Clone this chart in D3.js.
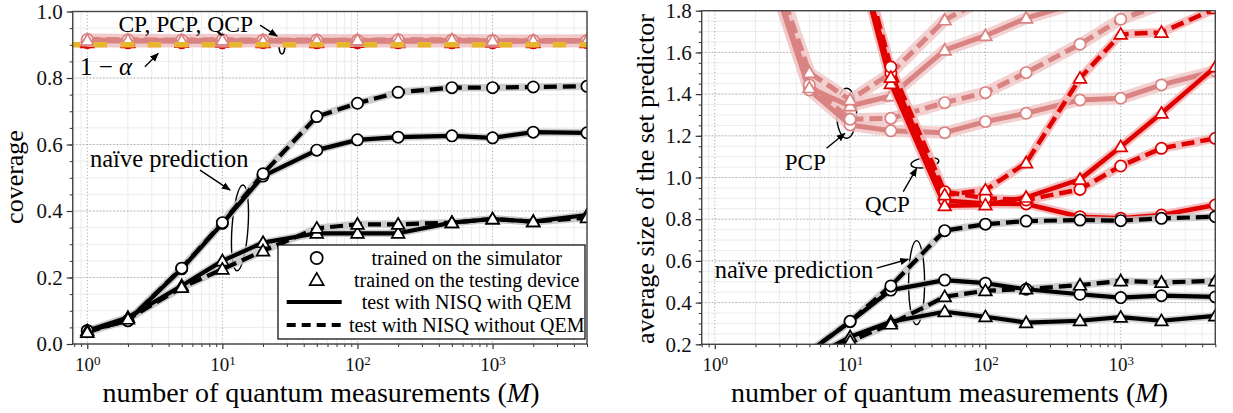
<!DOCTYPE html>
<html>
<head>
<meta charset="utf-8">
<script src="https://cdn.jsdelivr.net/npm/d3@7"></script>
<style>
  body { margin: 0; background: #fff; }
  svg { display: block; font-family: "Liberation Serif", "Times New Roman", serif; }
</style>
</head>
<body>
<svg id="chart" width="1233" height="413"></svg>
<script>
// number of quantum measurements
const M = [1, 2, 5, 10, 20, 50, 100, 200, 500, 1000, 2000, 5000];

// ---- left panel: coverage ----
const covPcpSimQem = [0.914, 0.913, 0.912, 0.913, 0.912, 0.913, 0.912, 0.913, 0.913, 0.912, 0.911, 0.912];
const covPcpSimNo  = [0.916, 0.915, 0.914, 0.915, 0.914, 0.914, 0.913, 0.915, 0.914, 0.913, 0.913, 0.913];
const covPcpDevQem = [0.912, 0.911, 0.911, 0.910, 0.912, 0.911, 0.911, 0.910, 0.912, 0.910, 0.911, 0.911];
const covPcpDevNo  = [0.913, 0.914, 0.912, 0.914, 0.911, 0.912, 0.914, 0.913, 0.915, 0.912, 0.912, 0.912];
const covQcpSimQem = [0.907, 0.906, 0.907, 0.906, 0.907, 0.906, 0.907, 0.906, 0.906, 0.907, 0.906, 0.907];
const covQcpSimNo  = [0.908, 0.907, 0.906, 0.907, 0.908, 0.907, 0.906, 0.907, 0.907, 0.906, 0.907, 0.908];
const covQcpDevQem = [0.906, 0.907, 0.908, 0.907, 0.906, 0.907, 0.908, 0.906, 0.907, 0.908, 0.906, 0.906];
const covQcpDevNo  = [0.907, 0.906, 0.907, 0.908, 0.907, 0.906, 0.907, 0.908, 0.906, 0.907, 0.908, 0.907];
const covNaiveSimQem = [0.040, 0.070, 0.226, 0.363, 0.505, 0.583, 0.614, 0.622, 0.626, 0.620, 0.637, 0.635];
const covNaiveSimNo  = [0.040, 0.070, 0.228, 0.365, 0.512, 0.684, 0.724, 0.757, 0.771, 0.771, 0.773, 0.775];
const covNaiveDevQem = [0.040, 0.080, 0.175, 0.250, 0.305, 0.333, 0.333, 0.333, 0.365, 0.376, 0.368, 0.388];
const covNaiveDevNo  = [0.035, 0.075, 0.170, 0.225, 0.280, 0.348, 0.360, 0.360, 0.365, 0.376, 0.368, 0.380];
const targetCoverage = 0.9;

// ---- right panel: average set size ----
const sizePcpSimQem = [2.30, 2.20, 1.420, 1.252, 1.224, 1.215, 1.268, 1.308, 1.372, 1.380, 1.444, 1.511];
const sizePcpSimNo  = [2.30, 2.20, 1.444, 1.279, 1.284, 1.359, 1.407, 1.503, 1.639, 1.759, 1.830, 1.950];
const sizePcpDevQem = [2.30, 2.20, 1.430, 1.343, 1.391, 1.611, 1.680, 1.764, 1.840, 1.900, 2.000, 2.100];
const sizePcpDevNo  = [2.30, 2.25, 1.503, 1.372, 1.500, 1.755, 1.860, 1.950, 2.050, 2.100, 2.200, 2.300];
const sizeQcpSimQem = [4.00, 3.50, 3.00, 2.20, 1.500, 0.890, 0.875, 0.873, 0.812, 0.804, 0.820, 0.868];
const sizeQcpSimNo  = [4.00, 3.50, 3.00, 2.25, 1.530, 0.932, 0.900, 0.892, 0.943, 1.055, 1.140, 1.188];
const sizeQcpDevQem = [4.00, 3.50, 3.00, 2.20, 1.450, 0.865, 0.868, 0.905, 0.991, 1.148, 1.308, 1.530];
const sizeQcpDevNo  = [4.00, 3.50, 3.00, 2.30, 1.480, 0.916, 0.940, 1.070, 1.476, 1.687, 1.696, 1.810];
const sizeNaiveSimQem = [0.040, 0.080, 0.165, 0.308, 0.460, 0.508, 0.493, 0.464, 0.440, 0.424, 0.433, 0.427];
const sizeNaiveSimNo  = [0.040, 0.080, 0.165, 0.310, 0.480, 0.745, 0.776, 0.791, 0.796, 0.793, 0.804, 0.812];
const sizeNaiveDevQem = [0.030, 0.060, 0.130, 0.236, 0.308, 0.356, 0.332, 0.304, 0.313, 0.330, 0.313, 0.336];
const sizeNaiveDevNo  = [0.030, 0.060, 0.120, 0.215, 0.297, 0.428, 0.457, 0.465, 0.484, 0.504, 0.497, 0.504];

const legendLabels = ["trained on the simulator", "trained on the testing device",
                      "test with NISQ with QEM", "test with NISQ without QEM"];

const styles = {
  pcp:   { color: "#d98383", halo: "#f1c9c9", haloW: 12, w: 5,   mk: "#d98383" },
  qcp:   { color: "#e00000", halo: "#f3b4b4", haloW: 9,  w: 4.5, mk: "#e00000" },
  naive: { color: "#000",    halo: "#c4c4c4", haloW: 7.5, w: 4.2, mk: "#000" }
};

const svg = d3.select("#chart");
const defs = svg.append("defs");
defs.append("marker").attr("id", "arrow")
  .attr("viewBox", "0 0 10 10").attr("refX", 9).attr("refY", 5)
  .attr("markerWidth", 9).attr("markerHeight", 9).attr("markerUnits", "userSpaceOnUse")
  .attr("orient", "auto")
  .append("path").attr("d", "M0,1 L10,5 L0,9 Z").attr("fill", "#000");

const circleSym = d3.symbol(d3.symbolCircle, 100)();
const triSym = d3.symbol(d3.symbolTriangle, 70)();

function series(values, kind, marker, dashed) {
  return { values, kind, marker, dashed };
}

function drawPanel(cfg) {
  const x = d3.scaleLog().domain(cfg.xdom).range([cfg.left, cfg.right]);
  const y = d3.scaleLinear().domain(cfg.ydom).range([cfg.bottom, cfg.top]);
  const g = svg.append("g");
  const clipId = "clip-" + cfg.id;
  defs.append("clipPath").attr("id", clipId).append("rect")
    .attr("x", cfg.left).attr("y", cfg.top)
    .attr("width", cfg.right - cfg.left).attr("height", cfg.bottom - cfg.top);

  // minor ticks in x
  const xMinor = [];
  [0.1, 1, 10, 100, 1000].forEach(d => {
    for (let k = 2; k <= 9; k++) {
      const v = k * d;
      if (v >= cfg.xdom[0] && v <= cfg.xdom[1]) xMinor.push(v);
    }
  });
  const xMajor = [1, 10, 100, 1000];
  const yMajor = d3.range(cfg.ydom[0], cfg.ydom[1] + 1e-9, 0.2);
  const yMinor = d3.range(cfg.ydom[0], cfg.ydom[1] + 1e-9, 0.05);

  // grid
  const grid = g.append("g");
  grid.selectAll(".gxm").data(xMinor).join("line")
    .attr("x1", d => x(d)).attr("x2", d => x(d)).attr("y1", cfg.top).attr("y2", cfg.bottom)
    .attr("stroke", "#ececec").attr("stroke-width", 1);
  grid.selectAll(".gym").data(yMinor).join("line")
    .attr("y1", d => y(d)).attr("y2", d => y(d)).attr("x1", cfg.left).attr("x2", cfg.right)
    .attr("stroke", "#ececec").attr("stroke-width", 1);
  grid.selectAll(".gxM").data(xMajor).join("line")
    .attr("x1", d => x(d)).attr("x2", d => x(d)).attr("y1", cfg.top).attr("y2", cfg.bottom)
    .attr("stroke", "#aaa").attr("stroke-width", 1).attr("stroke-dasharray", "1.2,2.2");
  grid.selectAll(".gyM").data(yMajor).join("line")
    .attr("y1", d => y(d)).attr("y2", d => y(d)).attr("x1", cfg.left).attr("x2", cfg.right)
    .attr("stroke", "#aaa").attr("stroke-width", 1).attr("stroke-dasharray", "1.2,2.2");

  // annotation ellipses go under the data
  const ann = cfg.annotations;
  ann.ellipses.forEach(e => {
    g.append("ellipse")
      .attr("transform", `translate(${x(e.m)},${y(e.v)}) rotate(${e.rot || 0})`)
      .attr("rx", e.rx).attr("ry", e.ry)
      .attr("fill", "none").attr("stroke", "#000").attr("stroke-width", 1.4);
  });

  // data
  const plot = g.append("g").attr("clip-path", `url(#${clipId})`);
  const line = d3.line().x((d, i) => x(M[i])).y(d => y(d));
  cfg.groups.forEach(group => {
    group.forEach(s => {
      const st = styles[s.kind];
      plot.append("path").attr("d", line(s.values)).attr("fill", "none")
        .attr("stroke", st.halo).attr("stroke-width", st.haloW)
        .attr("stroke-linejoin", "round").attr("stroke-opacity", 0.85);
    });
    group.forEach(s => {
      const st = styles[s.kind];
      plot.append("path").attr("d", line(s.values)).attr("fill", "none")
        .attr("stroke", st.color).attr("stroke-width", st.w)
        .attr("stroke-linejoin", "round")
        .attr("stroke-dasharray", s.dashed ? "13,6" : null);
    });
    group.forEach(s => {
      const st = styles[s.kind];
      plot.selectAll(null).data(s.values).join("path")
        .attr("transform", (d, i) => `translate(${x(M[i])},${y(d) + (s.marker === "tri" ? 1 : 0)})`)
        .attr("d", s.marker === "tri" ? triSym : circleSym)
        .attr("fill", "#fff").attr("stroke", st.mk).attr("stroke-width", 1.7);
    });
  });

  if (cfg.target !== undefined) {
    plot.append("line")
      .attr("x1", cfg.left).attr("x2", cfg.right)
      .attr("y1", y(cfg.target)).attr("y2", y(cfg.target))
      .attr("stroke", "#e8b62c").attr("stroke-width", 5.5)
      .attr("stroke-dasharray", "13.5,13.5").attr("stroke-dashoffset", 6);
  }

  // axes
  const xAxis = d3.axisBottom(x).tickValues(xMajor).tickSize(5).tickSizeOuter(0);
  const xa = g.append("g").attr("transform", `translate(0,${cfg.bottom})`).call(xAxis);
  xa.select(".domain").remove();
  xa.selectAll(".tick line").attr("stroke", "#333").attr("stroke-width", 1.2);
  xa.selectAll(".tick text").text(null).attr("fill", "#111")
    .attr("font-family", "Liberation Serif, serif").attr("font-size", 19).attr("dy", "1.0em")
    .each(function (d) {
      const t = d3.select(this);
      t.append("tspan").text("10");
      t.append("tspan").attr("dy", "-0.45em").attr("font-size", 13).text(Math.round(Math.log10(d)));
    });
  const xm = g.append("g").attr("transform", `translate(0,${cfg.bottom})`)
    .call(d3.axisBottom(x).tickValues(xMinor).tickSize(3).tickFormat(""));
  xm.select(".domain").remove();
  xm.selectAll(".tick line").attr("stroke", "#333").attr("stroke-width", 1);

  const ya = g.append("g").attr("transform", `translate(${cfg.left},0)`)
    .call(d3.axisLeft(y).tickValues(yMajor).tickSize(6).tickPadding(4).tickFormat(d3.format(".1f")));
  ya.select(".domain").remove();
  ya.selectAll(".tick line").attr("stroke", "#333").attr("stroke-width", 1.2);
  ya.selectAll(".tick text").attr("fill", "#111")
    .attr("font-family", "Liberation Serif, serif").attr("font-size", 21);
  const ym = g.append("g").attr("transform", `translate(${cfg.left},0)`)
    .call(d3.axisLeft(y).tickValues(yMinor).tickSize(3).tickFormat(""));
  ym.select(".domain").remove();
  ym.selectAll(".tick line").attr("stroke", "#333").attr("stroke-width", 1);

  // frame
  g.append("rect").attr("x", cfg.left).attr("y", cfg.top)
    .attr("width", cfg.right - cfg.left).attr("height", cfg.bottom - cfg.top)
    .attr("fill", "none").attr("stroke", "#444").attr("stroke-width", 1.4);

  // axis labels
  const xl = g.append("text").attr("x", cfg.xLabelX).attr("y", 402)
    .attr("text-anchor", "middle").attr("font-size", 28).attr("fill", "#000");
  xl.append("tspan").text("number of quantum measurements (");
  xl.append("tspan").attr("font-style", "italic").text("M");
  xl.append("tspan").text(")");
  g.append("text").attr("transform", `translate(${cfg.yLabelX},${cfg.yLabelY}) rotate(-90)`)
    .attr("text-anchor", "middle").attr("font-size", 26).attr("fill", "#000")
    .text(cfg.yLabel);

  // annotation text and arrows
  ann.texts.forEach(t => {
    const el = g.append("text").attr("x", x(t.m)).attr("y", y(t.v))
      .attr("font-size", t.size).attr("fill", "#000");
    t.parts.forEach(p => el.append("tspan").attr("font-style", p.italic ? "italic" : null).text(p.s));
  });
  ann.arrows.forEach(a => {
    g.append("line")
      .attr("x1", x(a.from[0])).attr("y1", y(a.from[1]))
      .attr("x2", x(a.to[0])).attr("y2", y(a.to[1]))
      .attr("stroke", "#000").attr("stroke-width", 1.4).attr("marker-end", "url(#arrow)");
  });
  return { x, y, g };
}

// left panel
drawPanel({
  id: "cov", left: 72.7, right: 587, top: 11.5, bottom: 344,
  xdom: [0.78, 5000], ydom: [0, 1], target: targetCoverage,
  xLabelX: 321, yLabelX: 23, yLabelY: 177, yLabel: "coverage",
  groups: [
    [series(covNaiveSimQem, "naive", "circle", false), series(covNaiveSimNo, "naive", "circle", true),
     series(covNaiveDevQem, "naive", "tri", false), series(covNaiveDevNo, "naive", "tri", true)],
    [series(covQcpSimQem, "qcp", "circle", false), series(covQcpSimNo, "qcp", "circle", true),
     series(covQcpDevQem, "qcp", "tri", false), series(covQcpDevNo, "qcp", "tri", true)],
    [series(covPcpSimQem, "pcp", "circle", false), series(covPcpSimNo, "pcp", "circle", true),
     series(covPcpDevQem, "pcp", "tri", false), series(covPcpDevNo, "pcp", "tri", true)]
  ],
  annotations: {
    texts: [
      { m: 1.70, v: 0.939, size: 23.5, parts: [{ s: "CP, PCP, QCP" }] },
      { m: 0.883, v: 0.809, size: 25, parts: [{ s: "1 − " }, { s: "α", italic: true }] },
      { m: 1.047, v: 0.533, size: 24.5, parts: [{ s: "naïve prediction" }] }
    ],
    arrows: [
      { from: [19, 0.959], to: [25.4, 0.926] },
      { from: [2.67, 0.834], to: [3.35, 0.874] },
      { from: [6.83, 0.523], to: [11.4, 0.463] }
    ],
    ellipses: [
      { m: 27.6, v: 0.899, rx: 3, ry: 9 },
      { m: 13.5, v: 0.349, rx: 8, ry: 43, rot: 4 }
    ]
  }
});

// right panel
drawPanel({
  id: "size", left: 701.7, right: 1215.3, top: 10.7, bottom: 344.3,
  xdom: [0.8, 5000], ydom: [0.2, 1.8],
  xLabelX: 949.5, yLabelX: 654, yLabelY: 179, yLabel: "average size of the set predictor",
  groups: [
    [series(sizePcpSimQem, "pcp", "circle", false), series(sizePcpSimNo, "pcp", "circle", true),
     series(sizePcpDevQem, "pcp", "tri", false), series(sizePcpDevNo, "pcp", "tri", true)],
    [series(sizeQcpSimQem, "qcp", "circle", false), series(sizeQcpSimNo, "qcp", "circle", true),
     series(sizeQcpDevQem, "qcp", "tri", false), series(sizeQcpDevNo, "qcp", "tri", true)],
    [series(sizeNaiveSimQem, "naive", "circle", false), series(sizeNaiveSimNo, "naive", "circle", true),
     series(sizeNaiveDevQem, "naive", "tri", false), series(sizeNaiveDevNo, "naive", "tri", true)]
  ],
  annotations: {
    texts: [
      { m: 3.29, v: 1.036, size: 23, parts: [{ s: "PCP" }] },
      { m: 12.9, v: 0.836, size: 23, parts: [{ s: "QCP" }] },
      { m: 1.0, v: 0.517, size: 24.5, parts: [{ s: "naïve prediction" }] }
    ],
    arrows: [
      { from: [6.70, 1.140], to: [9.15, 1.212] },
      { from: [24.7, 0.932], to: [31.0, 1.044] },
      { from: [15.7, 0.565], to: [26.9, 0.608] }
    ],
    ellipses: [
      { m: 9.42, v: 1.308, rx: 10, ry: 25 },
      { m: 35.7, v: 1.071, rx: 14, ry: 5, rot: -8 },
      { m: 31.0, v: 0.496, rx: 8, ry: 42 }
    ]
  }
});

// legend (left panel)
const lg = svg.append("g").attr("transform", "translate(278,245)");
lg.append("rect").attr("width", 307).attr("height", 94)
  .attr("fill", "#fff").attr("stroke", "#000").attr("stroke-width", 1.2);
const rowY = [13, 35, 57, 80];
lg.selectAll(".lt").data(legendLabels).join("text")
  .attr("x", 188.7).attr("y", (d, i) => rowY[i] + 7)
  .attr("text-anchor", "middle").attr("font-size", 20).attr("fill", "#000")
  .text(d => d);
lg.append("path").attr("transform", `translate(38.7,${rowY[0]})`).attr("d", d3.symbol(d3.symbolCircle, 115)())
  .attr("fill", "#fff").attr("stroke", "#000").attr("stroke-width", 1.7);
lg.append("path").attr("transform", `translate(38.7,${rowY[1] + 1})`).attr("d", d3.symbol(d3.symbolTriangle, 85)())
  .attr("fill", "#fff").attr("stroke", "#000").attr("stroke-width", 1.7);
lg.append("line").attr("x1", 8.7).attr("x2", 63.7).attr("y1", rowY[2]).attr("y2", rowY[2])
  .attr("stroke", "#000").attr("stroke-width", 4);
lg.append("line").attr("x1", 8.7).attr("x2", 63.7).attr("y1", rowY[3]).attr("y2", rowY[3])
  .attr("stroke", "#000").attr("stroke-width", 4).attr("stroke-dasharray", "9,6");
</script>
</body>
</html>
